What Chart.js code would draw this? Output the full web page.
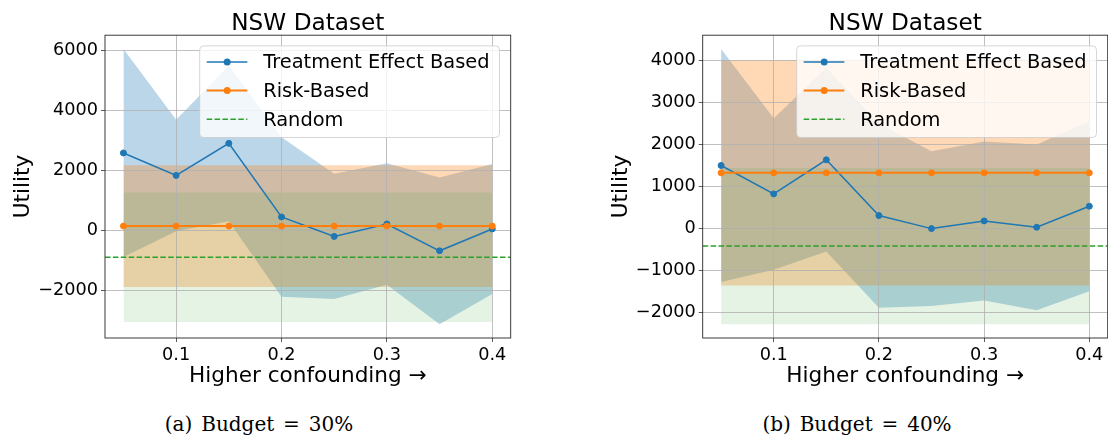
<!DOCTYPE html>
<html>
<head>
<meta charset="utf-8">
<script src="https://cdn.jsdelivr.net/npm/chart.js@4.4.0/dist/chart.umd.min.js"></script>
<style>
body{margin:0;background:#fff;width:1108px;height:441px;position:relative;overflow:hidden}
canvas{position:absolute;top:0}
#c30{left:0}
#c40{left:598px}
.cap{position:absolute;top:414px;width:300px;text-align:center;font:20px/20px 'DejaVu Serif';word-spacing:2.5px;color:#000}
</style>
</head>
<body>
<canvas id="c30" width="554" height="392"></canvas>
<canvas id="c40" width="510" height="392"></canvas>
<div class="cap" style="left:109px">(a) Budget = 30%</div>
<div class="cap" style="left:707px">(b) Budget = 40%</div>
<script>
'use strict';
// x values (confounding level)
const confounding=[0.05,0.1,0.15,0.2,0.25,0.3,0.35,0.4];
const xTicks=[0.1,0.2,0.3,0.4];

// budget 30%
const teMean30=[2580,1830,2900,445,-205,210,-685,45];
const teStd30=[3470,1860,2600,2660,2090,2030,2450,2170];
const riskMean30=[140,140,140,140,140,140,140,140];
const riskStd30=[2030,2030,2030,2030,2030,2030,2030,2030];
const randMean30=[-900,-900,-900,-900,-900,-900,-900,-900];
const randStd30=[2160,2160,2160,2160,2160,2160,2160,2160];
const yTicks30=[-2000,0,2000,4000,6000];

// budget 40%
const teMean40=[1500,825,1635,310,0,183,32,532];
const teStd40=[2770,1800,2180,2190,1840,1890,1970,2020];
const riskMean40=[1325,1325,1325,1325,1325,1325,1325,1325];
const riskStd40=[2675,2675,2675,2675,2675,2675,2675,2675];
const randMean40=[-413,-413,-413,-413,-413,-413,-413,-413];
const randStd40=[1860,1860,1860,1860,1860,1860,1860,1860];
const yTicks40=[-2000,-1000,0,1000,2000,3000,4000];

Chart.defaults.font.family='DejaVu Sans';
Chart.defaults.color='#000';

const C0='#1f77b4', C1='#ff7f0e', C2='#2ca02c';

function pts(ys){
  return confounding.map((x,i)=>({x:x,y:ys[i]}));
}
function band(mean,std,sign){
  return mean.map((m,i)=>m+sign*std[i]);
}
function fmt(v){
  return v<0 ? '\u2212'+Math.abs(v) : String(v);
}

// full box round the plot, like matplotlib spines
const frame={
  id:'frame',
  afterDatasetsDraw(chart){
    const a=chart.chartArea, ctx=chart.ctx;
    ctx.save();
    ctx.strokeStyle='#262626';
    ctx.lineWidth=0.9;
    ctx.strokeRect(a.left,a.top,a.right-a.left,a.bottom-a.top);
    ctx.restore();
  }
};

// legend box in upper right of the plot
const boxLegend={
  id:'boxLegend',
  afterDraw(chart,args,opts){
    const ctx=chart.ctx, a=chart.chartArea;
    ctx.save();
    ctx.font='19.4px "DejaVu Sans"';
    let tw=Math.max(...opts.entries.map(e=>ctx.measureText(e.label).width));
    let w=63.5+tw+10, h=91.6;
    let x=a.right-11.2-w, y=a.top+10.7;
    ctx.beginPath();
    ctx.roundRect(x,y,w,h,4);
    ctx.fillStyle='rgba(255,255,255,0.8)';
    ctx.fill();
    ctx.strokeStyle='rgba(204,204,204,0.8)';
    ctx.lineWidth=1;
    ctx.stroke();
    opts.entries.forEach((e,i)=>{
      let cy=y+16+i*28.7;
      ctx.strokeStyle=e.color;
      ctx.lineWidth=e.width;
      ctx.setLineDash(e.dash||[]);
      ctx.beginPath();
      ctx.moveTo(x+7,cy);
      ctx.lineTo(x+47.7,cy);
      ctx.stroke();
      ctx.setLineDash([]);
      if(e.marker){
        ctx.fillStyle=e.color;
        ctx.beginPath();
        ctx.arc(x+27.5,cy,3.5,0,Math.PI*2);
        ctx.fill();
      }
      ctx.fillStyle='#000';
      ctx.textBaseline='middle';
      ctx.fillText(e.label,x+63.5,cy+1.3);
    });
    ctx.restore();
  }
};

function makeChart(id,p){
  const lows=[...band(p.teMean,p.teStd,-1),...band(p.riskMean,p.riskStd,-1),...band(p.randMean,p.randStd,-1)];
  const highs=[...band(p.teMean,p.teStd,1),...band(p.riskMean,p.riskStd,1),...band(p.randMean,p.randStd,1)];
  const lo=Math.min(...lows), hi=Math.max(...highs);
  const yPad=(hi-lo)*0.05;
  const xPad=(confounding[confounding.length-1]-confounding[0])*0.05;
  const xMin=confounding[0]-xPad, xMax=confounding[confounding.length-1]+xPad;

  new Chart(document.getElementById(id),{
    type:'line',
    data:{
      datasets:[
        {label:'Random',data:[{x:xMin,y:p.randMean[0]},{x:xMax,y:p.randMean[0]}],
          borderColor:C2,borderWidth:1.5,borderDash:[5.5,2.4],pointRadius:0,fill:false},
        {label:'Risk-Based',data:pts(p.riskMean),borderColor:C1,backgroundColor:C1,
          pointBackgroundColor:C1,pointBorderColor:C1,borderWidth:2,pointRadius:3,pointBorderWidth:1,fill:false},
        {label:'Treatment Effect Based',data:pts(p.teMean),borderColor:C0,backgroundColor:C0,
          pointBackgroundColor:C0,pointBorderColor:C0,borderWidth:1.5,pointRadius:3,pointBorderWidth:1,fill:false},
        {data:pts(band(p.randMean,p.randStd,1)),fill:'+1',backgroundColor:'rgba(44,160,44,0.12)',
          borderColor:'rgba(0,0,0,0)',borderWidth:0,pointRadius:0},
        {data:pts(band(p.randMean,p.randStd,-1)),fill:false,borderColor:'rgba(0,0,0,0)',borderWidth:0,pointRadius:0},
        {data:pts(band(p.riskMean,p.riskStd,1)),fill:'+1',backgroundColor:'rgba(255,127,14,0.3)',
          borderColor:'rgba(0,0,0,0)',borderWidth:0,pointRadius:0},
        {data:pts(band(p.riskMean,p.riskStd,-1)),fill:false,borderColor:'rgba(0,0,0,0)',borderWidth:0,pointRadius:0},
        {data:pts(band(p.teMean,p.teStd,1)),fill:'+1',backgroundColor:'rgba(31,119,180,0.3)',
          borderColor:'rgba(0,0,0,0)',borderWidth:0,pointRadius:0},
        {data:pts(band(p.teMean,p.teStd,-1)),fill:false,borderColor:'rgba(0,0,0,0)',borderWidth:0,pointRadius:0}
      ]
    },
    options:{
      responsive:false,
      animation:false,
      layout:{autoPadding:false,padding:{left:0,right:p.padRight,top:0,bottom:0}},
      plugins:{
        legend:{display:false},
        tooltip:{enabled:false},
        filler:{drawTime:'beforeDraw'},
        title:{display:true,text:'NSW Dataset',fullSize:false,color:'#000',
          font:{size:23.2,weight:'normal',lineHeight:1},padding:{top:12,bottom:0}},
        boxLegend:{entries:[
          {label:'Treatment Effect Based',color:C0,width:1.5,marker:true},
          {label:'Risk-Based',color:C1,width:2,marker:true},
          {label:'Random',color:C2,width:1.5,dash:[5.5,2.4]}
        ]}
      },
      scales:{
        x:{
          type:'linear',min:xMin,max:xMax,
          afterBuildTicks:s=>{s.ticks=xTicks.map(v=>({value:v}));},
          afterFit:s=>{s.height=54;s.paddingLeft=0;s.paddingRight=0;},
          grid:{color:'#b0b0b0',lineWidth:0.8,tickLength:4,tickColor:'#333'},
          border:{display:false},
          ticks:{font:{size:17.7},padding:3,maxRotation:0,callback:v=>String(v)},
          title:{display:true,text:'Higher confounding \u2192',font:{size:21.6},padding:{top:0,bottom:2.5}}
        },
        y:{
          min:lo-yPad,max:hi+yPad,
          afterBuildTicks:s=>{s.ticks=p.yTicks.map(v=>({value:v}));},
          afterFit:s=>{s.width=p.axisW;s.paddingTop=0;s.paddingBottom=0;},
          grid:{color:'#b0b0b0',lineWidth:0.8,tickLength:4,tickColor:'#333'},
          border:{display:false},
          ticks:{font:{size:17.7},padding:3,callback:v=>fmt(v)},
          title:{display:true,text:'Utility',font:{size:21.6},padding:{top:10,bottom:0}}
        }
      }
    },
    plugins:[frame,boxLegend]
  });
}

makeChart('c30',{teMean:teMean30,teStd:teStd30,riskMean:riskMean30,riskStd:riskStd30,
  randMean:randMean30,randStd:randStd30,yTicks:yTicks30,axisW:105,padRight:43.3});
makeChart('c40',{teMean:teMean40,teStd:teStd40,riskMean:riskMean40,riskStd:riskStd40,
  randMean:randMean40,randStd:randStd40,yTicks:yTicks40,axisW:104.7,padRight:0.3});
</script>
</body>
</html>
